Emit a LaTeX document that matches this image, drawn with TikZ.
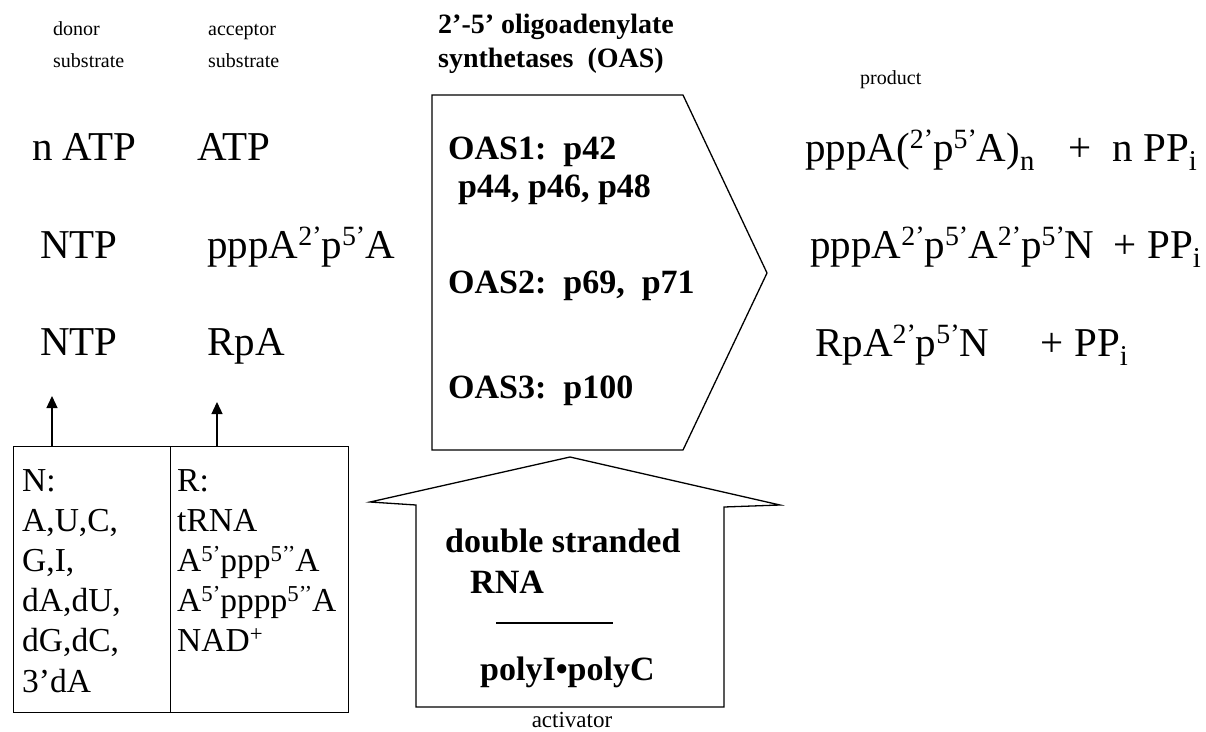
\documentclass[tikz,border=0pt]{standalone}
\usepackage{fontspec}
\setmainfont{Liberation Serif}
\usetikzlibrary{arrows.meta}
% raised and lowered small text for the nucleotide notation
\newcommand\upt[1]{\raisebox{0.3em}{\scalebox{0.68}{#1}}}
\newcommand\dnt[1]{\raisebox{-0.24em}{\scalebox{0.7}{#1}}}
\tikzset{
  lbl/.style={anchor=base west, inner sep=0pt, font=\fontsize{20}{22}\selectfont},
  big/.style={anchor=base west, inner sep=0pt, font=\fontsize{41}{43}\selectfont},
  bigr/.style={big, anchor=base east},
  enz/.style={anchor=base west, inner sep=0pt, font=\bfseries\fontsize{34}{36}\selectfont},
  ttl/.style={anchor=base west, inner sep=0pt, font=\bfseries\fontsize{28}{30}\selectfont},
  act/.style={anchor=base west, inner sep=0pt, font=\bfseries\fontsize{34}{36}\selectfont},
  boxtxt/.style={anchor=base west, inner sep=0pt, font=\fontsize{33.5}{35}\selectfont},
  outline/.style={draw, line width=1.3pt, line join=miter},
  uparrow/.style={line width=1.3pt, -{Triangle[width=11pt,length=12pt]}},
}
\begin{document}
\begin{tikzpicture}[x=1pt, y=-1pt]
\useasboundingbox (0,0) rectangle (1206,731);

% column headings
\node[lbl] (hdon1) at (53,35) {donor};
\node[lbl] (hdon2) at (53,67) {substrate};
\node[lbl] (hacc1) at (208,35) {acceptor};
\node[lbl] (hacc2) at (208,67) {substrate};
\node[ttl] (htit1) at (438,33) {2’-5’ oligoadenylate};
\node[ttl] (htit2) at (438,67) {synthetases\ \ (OAS)};
\node[lbl] (hprod) at (860,84) {product};

% donor and acceptor substrates
\node[big] (d1) at (32,160) {n ATP};
\node[big] (a1) at (197,160) {ATP};
\node[big] (d2) at (40,258) {NTP};
\node[big] (a2) at (207,258) {pppA\upt{2’}p\upt{5’}A};
\node[big] (d3) at (40,355) {NTP};
\node[big] (a3) at (207,355) {RpA};

% synthetase arrow
\draw[outline] (432,95) -- (683,95) -- (767,273) -- (683,450) -- (432,450) -- cycle;
\node[enz] (oas1) at (448,159) {OAS1:\ \ p42};
\node[enz] (oas1b) at (458,197) {p44, p46, p48};
\node[enz] (oas2) at (448,293) {OAS2:\ \ p69,\ \ p71};
\node[enz] (oas3) at (448,398) {OAS3:\ \ p100};

% products
\node[big] (p1) at (805,161) {pppA(\upt{2’}p\upt{5’}A)\dnt{n}};
\node[bigr] (p1b) at (1197,161) {+\ \ n PP\dnt{i}};
\node[big] (p2) at (810,258) {pppA\upt{2’}p\upt{5’}A\upt{2’}p\upt{5’}N};
\node[bigr] (p2b) at (1201,258) {+ PP\dnt{i}};
\node[big] (p3) at (815,356) {RpA\upt{2’}p\upt{5’}N};
\node[bigr] (p3b) at (1128,356) {+ PP\dnt{i}};

% table of N and R variants
\node[outline, rectangle, inner sep=0pt, minimum width=157pt, minimum height=266pt, anchor=north west] (colN) at (13,446) {};
\node[outline, rectangle, inner sep=0pt, minimum width=178pt, minimum height=266pt, anchor=north west] (colR) at (170,446) {};
\foreach \t [count=\i from 0] in {{N:},{A,U,C,},{G,I,},{dA,dU,},{dG,dC,},{3’dA}}
  \node[boxtxt] (n\i) at (22,491+40.2*\i) {\t};
\foreach \t [count=\i from 0] in {{R:},{tRNA},{A\upt{5’}ppp\upt{5’’}A},{A\upt{5’}pppp\upt{5’’}A},{NAD\upt{+}}}
  \node[boxtxt] (r\i) at (177,491+40.2*\i) {\t};

\coordinate (tipN) at (52,396);
\coordinate (tipR) at (217,402);
\draw[uparrow] (colN.north west -| tipN) -- (tipN);
\draw[uparrow] (colR.north west -| tipR) -- (tipR);

% activator arrow
\draw[outline] (416,707) -- (416,505) -- (370,502) -- (570,457) -- (780,505) -- (724,507) -- (724,707) -- cycle;
\node[act] (ds1) at (445,552) {double stranded};
\node[act] (ds2) at (470,593) {RNA};
\coordinate (rule1) at (496,623);
\coordinate (rule2) at (613,623);
\draw[line width=1.1pt] (rule1) -- (rule2);
\node[act] (poly) at (480,680) {polyI•polyC};
\node[lbl, anchor=base, font=\fontsize{23}{25}\selectfont] (hact) at (572,727) {activator};
\end{tikzpicture}
\end{document}
